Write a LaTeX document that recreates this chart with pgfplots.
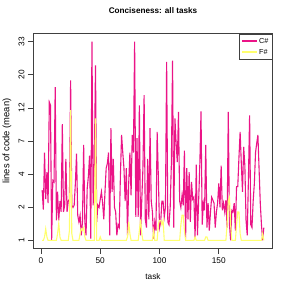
\documentclass[border=0pt]{standalone}
\usepackage{pgfplots}
\pgfplotsset{compat=1.18}
\usepackage{pgfplotstable}
\usepackage{fontspec}
\setmainfont{Liberation Sans}
\definecolor{pinkline}{RGB}{235,20,135}
\definecolor{yellowline}{RGB}{255,255,110}
\pgfplotstableread{
x c f
1 3.1 1
2 2.1 1
3 6.0 1.1
4 2.6 1.36
5 4.3 1.1
6 2.4 1
7 13.4 1
8 12.75 1
9 1.0 1
10 3.7 1
11 3.6 1
12 16.8 1
13 1.66 1
14 3.0 1.2
15 1.66 1.55
16 2.5 1.1
17 2.0 1
18 9.5 1
19 2.0 1
20 2.3 1
21 5.4 1
22 2.0 1
23 2.5 1
24 2.6 1.3
25 18.6 11.8
26 2.3 1.2
27 2.2 1
28 2.3 1
29 3.5 1
30 5.9 1
31 1.86 1
32 1.6 1
33 1.86 1.2
34 1.15 1.36
35 1.6 1.3
36 6.8 1.4
37 1.6 1.1
38 1.15 1
39 3.2 1
40 4.0 1
41 5.7 1
42 1.05 1
43 33 1
44 2.3 1
45 5 1
46 23.3 10.4
47 1.6 1
48 2.3 1
49 2.2 1
50 2.6 1.1
51 3.0 1
52 2.4 1
53 1.7 1
54 3.0 1
55 4.6 1
56 5.0 1
57 6.0 1
58 1.15 1
59 8.9 1
60 3.0 1
61 5.4 1
62 2.2 1
63 2.0 1
64 1.15 1
65 1.5 1
66 1.4 1
67 4 1
68 8.0 1
69 6 1
70 4.6 1
71 2.5 1
72 4.6 1
73 1.15 1.1
74 3.5 1.6
75 6.0 1.2
76 2.8 1
77 8 1
78 6 1
79 33 1
80 1.8 1
81 7.6 1
82 1.8 1
83 12.7 1.3
84 1.15 1.7
85 2.5 1.2
86 4.6 1
87 14.9 1
88 1.7 1
89 1.4 1
90 5.4 1
91 1.7 1
92 8.9 1
93 2.5 1
94 2.0 1
95 1.05 1.3
96 1.6 1
97 1.3 1
98 8.4 1
99 4 1.5
100 1.4 1.66
101 1.6 1.66
102 2.5 1.5
103 2.5 1.66
104 1.8 1
105 2.2 1
106 24.5 1
107 1.6 1
108 1.5 1
109 2.2 1
110 5 1
111 25 1
112 1.4 1
113 10.4 1
114 7 1
115 5.1 1
116 11.5 1
117 2.5 1
118 2.2 1.5
119 2.8 1.86
120 2.3 1.86
121 6.2 1.3
122 1.05 1
123 4.6 1
124 1.7 1
125 4.3 1
126 1.6 1
127 3.6 1
128 2.6 1
129 2.7 1
130 1.05 1.1
131 4.9 1
132 1.15 1
133 2.5 1
134 4.9 1
135 11.6 1
136 1.5 1
137 2.4 1
138 2.07 1
139 6.8 1.1
140 1.4 1.1
141 2.4 1
142 1.3 1
143 2.0 1
144 2.7 1
145 2.55 1
146 2.4 1
147 1.4 1
148 2.0 1
149 2.4 1
150 3.5 1
151 2.2 1
152 4.8 1
153 2.07 1
154 2.4 1
155 2.0 1
156 2.55 1
157 1.4 1.5
158 11.5 2.5
159 1.5 2.7
160 1.0 1.5
161 2.07 1
162 2.0 1
163 2.4 1
164 1.3 1
165 3.3 1.5
166 3.3 2.0
167 5.5 2.0
168 8.4 1.2
169 5 1
170 3.0 1
171 6.6 1
172 4.8 1
173 1.65 1
174 1.15 1
175 3.8 1
176 10.9 1
177 1.5 1
178 1.4 1
179 2.5 1
180 3.5 1
181 6.0 1
182 7.0 1
183 8.0 1
184 4.5 1
185 2.4 1
186 1.5 1
187 1.0 1.2
188 1.4 1
}\data
\begin{document}
\begin{tikzpicture}[x=1bp,y=1bp]
\path[use as bounding box] (0,0) rectangle (291,291);
\begin{axis}[
  at={(33.3bp,42.7bp)}, anchor=south west, scale only axis,
  width=239.4bp, height=214.5bp,
  xmin=-6.48, xmax=195.48, ymin=0.5798, ymax=3.6397,
  axis line style={black!75, line width=0.7bp},
  tick style={black!75, line width=0.7bp},
  tick align=outside, major tick length=5.5bp,
  xtick pos=left, ytick pos=left,
  xtick={0,50,100,150}, xticklabels={0,50,100,150},
  ytick={0.6931,1.1654,1.6376,2.1098,2.5820,3.0542,3.5264},
  yticklabels={1,2,4,7,12,20,33},
  xticklabel style={font=\fontsize{8.3}{9}\selectfont, anchor=base, inner sep=0pt},
  xticklabel shift=10.2bp,
  yticklabel style={font=\fontsize{8.3}{9}\selectfont, rotate=90, anchor=base, inner sep=0pt},
  yticklabel shift=3.3bp,
  title={Conciseness: all tasks},
  title style={font=\bfseries\fontsize{8.2}{9.6}\selectfont, at={(axis description cs:0.5,1)}, anchor=base, yshift=14.5bp, inner sep=0pt},
  xlabel={task},
  xlabel style={font=\fontsize{8.3}{9}\selectfont, at={(axis description cs:0.5,0)}, anchor=base, yshift=-31.2bp, inner sep=0pt},
  ylabel={lines of code (mean)},
  ylabel style={font=\fontsize{9.4}{10}\selectfont, at={(axis description cs:-0.11,0.5)}, anchor=center, inner sep=0pt},
  legend style={at={(1,1)}, anchor=north east,
    font=\fontsize{7.3}{7.3}\selectfont, inner xsep=2pt, inner ysep=2pt,
    cells={anchor=west}, row sep=0.5pt},
  every axis legend/.append style={draw=black!75, line width=0.7bp},
  legend image code/.code={\fill[#1] (0bp,-0.5bp) rectangle (14.4bp,0.5bp);},
]
\addplot[color=pinkline, line width=1.1bp] table[x=x, y expr={ln(\thisrow{c}+1)}] {\data};
\addlegendentry{C\#}
\addplot[color=yellowline, line width=1.1bp] table[x=x, y expr={ln(\thisrow{f}+1)}] {\data};
\addlegendentry{F\#}
\end{axis}
\end{tikzpicture}
\end{document}
